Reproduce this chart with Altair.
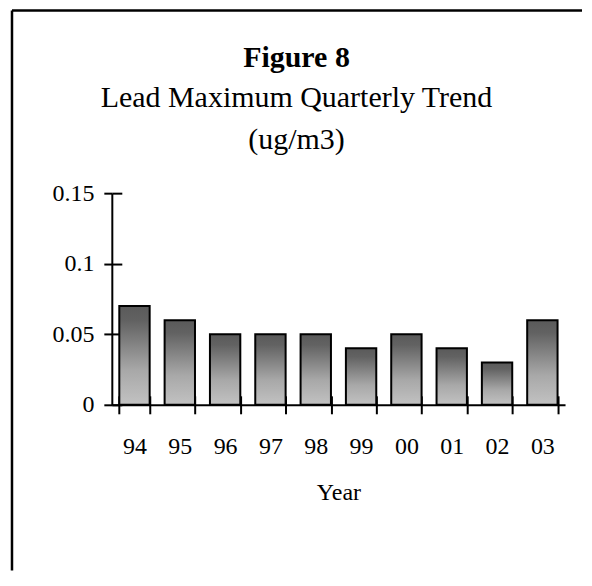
import altair as alt
import pandas as pd

years = ["94", "95", "96", "97", "98", "99", "00", "01", "02", "03"]
values = [0.07, 0.06, 0.05, 0.05, 0.05, 0.04, 0.05, 0.04, 0.03, 0.06]
y_ticks = [0, 0.05, 0.1, 0.15]

df = pd.DataFrame({"year": years, "value": values})
frame_df = pd.DataFrame({"k": [0]})

W, H = 454, 212
FONT = "Liberation Serif"

gradient = alt.Gradient(
    gradient="linear",
    stops=[
        alt.GradientStop(color="#5a5a5a", offset=0),
        alt.GradientStop(color="#626262", offset=0.15),
        alt.GradientStop(color="#a8a8a8", offset=0.65),
        alt.GradientStop(color="#c2c2c2", offset=1),
    ],
    x1=0, x2=0, y1=0, y2=1,
)

xscale = alt.Scale(paddingInner=0.33, paddingOuter=0.165)
yscale = alt.Scale(domain=[0, 0.15])

bars = alt.Chart(df).mark_bar(fill=gradient, stroke="black", strokeWidth=2).encode(
    x=alt.X("year:N", sort=years, scale=xscale,
            axis=alt.Axis(title="Year", tickBand="extent", tickSize=9, tickWidth=2,
                          domainWidth=2, domainColor="black", tickColor="black",
                          labelAngle=0, labelFont=FONT, labelFontSize=24, labelColor="black",
                          labelPadding=21, titleFont=FONT, titleFontSize=24,
                          titleFontWeight="normal", titleColor="black", titlePadding=22)),
    y=alt.Y("value:Q", scale=yscale,
            axis=alt.Axis(title=None, values=y_ticks, format=".2~f", tickSize=8, tickWidth=2,
                          domainWidth=2, domainColor="black", tickColor="black",
                          labelFont=FONT, labelFontSize=24, labelColor="black",
                          labelPadding=10, grid=False)),
)

inner = alt.Chart(df).mark_bar(opacity=0).encode(
    x=alt.X("year:N", sort=years, scale=xscale,
            axis=alt.Axis(orient="top", offset=-H, labels=False, domain=False, title=None,
                          tickBand="extent", tickSize=9, tickWidth=2, tickColor="black")),
    y=alt.Y("value:Q", scale=yscale,
            axis=alt.Axis(orient="right", offset=-W, labels=False, domain=False, title=None,
                          values=y_ticks, tickSize=10, tickWidth=2, tickColor="black", grid=False)),
)

frame_top = alt.Chart(frame_df).mark_rule(color="black", strokeWidth=2.5).encode(
    x=alt.value(-100), x2=alt.value(471), y=alt.value(-183)
)
frame_left = alt.Chart(frame_df).mark_rule(color="black", strokeWidth=2.5).encode(
    x=alt.value(-100), y=alt.value(-183), y2=alt.value(378)
)

chart = alt.layer(bars, inner, frame_top, frame_left).resolve_axis(
    x="independent", y="independent"
).properties(
    width=W, height=H,
    padding={"left": 2, "top": 0, "right": 0, "bottom": 0},
    title=alt.TitleParams(
        text="Figure 8",
        subtitle=["Lead Maximum Quarterly Trend", "(ug/m3)"],
        font=FONT, fontSize=30, fontWeight="bold", color="black",
        subtitleFont=FONT, subtitleFontSize=30, subtitleColor="black",
        subtitleLineHeight=42, subtitlePadding=10,
        anchor="middle", frame="group", dx=-42, offset=-146,
    ),
).configure_view(stroke=None)

chart.save("out.html", embed_options={"renderer": "svg", "actions": False})
